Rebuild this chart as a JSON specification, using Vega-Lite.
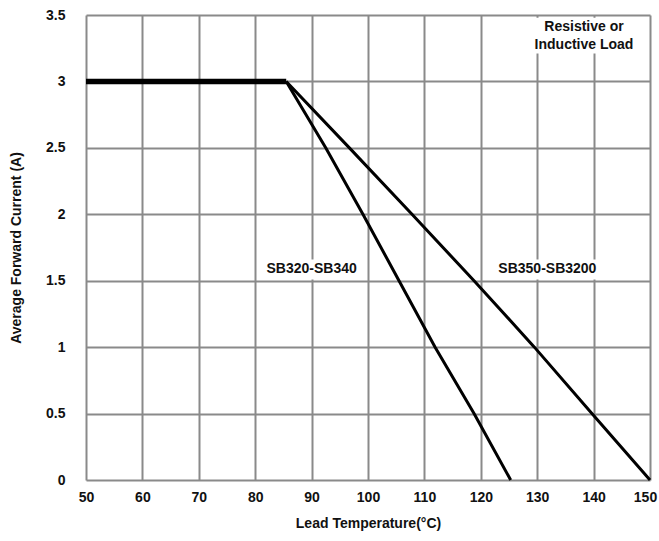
{
  "$schema": "https://vega.github.io/schema/vega-lite/v6.json",
  "autosize": "none",
  "padding": {"left": 86, "top": 15, "right": 9, "bottom": 61},
  "width": 564,
  "height": 465,
  "background": "white",
  "config": {
    "font": "Liberation Sans",
    "view": {"stroke": null},
    "axis": {
      "labelFont": "Liberation Sans",
      "labelFontWeight": "bold",
      "labelFontSize": 14,
      "labelColor": "#111",
      "titleFont": "Liberation Sans",
      "titleFontWeight": "bold",
      "titleFontSize": 14,
      "titleColor": "#111",
      "gridColor": "#8a8a8a",
      "gridWidth": 2,
      "gridOpacity": 1,
      "domain": false,
      "ticks": false,
      "labelFlush": false
    }
  },
  "datasets": {
    "curves": [
      {"series": "flat", "temp": 50, "current": 3},
      {"series": "flat", "temp": 85.5, "current": 3},
      {"series": "SB320-SB340", "temp": 85.5, "current": 3},
      {"series": "SB320-SB340", "temp": 92.5, "current": 2.5},
      {"series": "SB320-SB340", "temp": 99.1, "current": 2},
      {"series": "SB320-SB340", "temp": 105.5, "current": 1.5},
      {"series": "SB320-SB340", "temp": 111.9, "current": 1},
      {"series": "SB320-SB340", "temp": 118.8, "current": 0.5},
      {"series": "SB320-SB340", "temp": 125.3, "current": 0},
      {"series": "SB350-SB3200", "temp": 85.5, "current": 3},
      {"series": "SB350-SB3200", "temp": 96.7, "current": 2.5},
      {"series": "SB350-SB3200", "temp": 107.8, "current": 2},
      {"series": "SB350-SB3200", "temp": 118.8, "current": 1.5},
      {"series": "SB350-SB3200", "temp": 129.5, "current": 1},
      {"series": "SB350-SB3200", "temp": 139.7, "current": 0.5},
      {"series": "SB350-SB3200", "temp": 150, "current": 0}
    ],
    "boxes": [
      {"x1": 81.8, "x2": 98.2, "y1": 1.51, "y2": 1.66},
      {"x1": 122.6, "x2": 141, "y1": 1.51, "y2": 1.66},
      {"x1": 128, "x2": 148.6, "y1": 3.21, "y2": 3.48}
    ],
    "labels": [
      {"text": "SB320-SB340", "temp": 90, "current": 1.585},
      {"text": "SB350-SB3200", "temp": 131.8, "current": 1.585},
      {"text": "Resistive or", "temp": 138.3, "current": 3.41},
      {"text": "Inductive Load", "temp": 138.3, "current": 3.275}
    ]
  },
  "layer": [
    {
      "data": {"name": "boxes"},
      "mark": {"type": "rect", "color": "white"},
      "encoding": {
        "x": {"field": "x1", "type": "quantitative", "scale": {"domain": [50, 150], "nice": false},
              "axis": {"values": [50,60,70,80,90,100,110,120,130,140,150], "labelPadding": 10,
                       "labelOffset": {"condition": {"test": "datum.value === 150", "value": -5}, "value": 0},
                       "title": "Lead Temperature(°C)", "titlePadding": 12}},
        "x2": {"field": "x2"},
        "y": {"field": "y1", "type": "quantitative", "scale": {"domain": [0, 3.5], "nice": false},
              "axis": {"values": [0,0.5,1,1.5,2,2.5,3,3.5], "format": "~g", "labelPadding": 21, "title": "Average Forward Current (A)", "titlePadding": 22}},
        "y2": {"field": "y2"}
      }
    },
    {
      "data": {"name": "curves"},
      "transform": [{"filter": "datum.series === 'flat'"}],
      "mark": {"type": "line", "color": "black", "strokeWidth": 5.5, "strokeCap": "butt"},
      "encoding": {
        "x": {"field": "temp", "type": "quantitative"},
        "y": {"field": "current", "type": "quantitative"}
      }
    },
    {
      "data": {"name": "curves"},
      "transform": [{"filter": "datum.series !== 'flat'"}],
      "mark": {"type": "line", "color": "black", "strokeWidth": 3},
      "encoding": {
        "x": {"field": "temp", "type": "quantitative"},
        "y": {"field": "current", "type": "quantitative"},
        "detail": {"field": "series"}
      }
    },
    {
      "data": {"name": "labels"},
      "mark": {"type": "text", "font": "Liberation Sans", "fontWeight": "bold", "fontSize": 14, "color": "#111", "align": "center", "baseline": "middle"},
      "encoding": {
        "x": {"field": "temp", "type": "quantitative"},
        "y": {"field": "current", "type": "quantitative"},
        "text": {"field": "text"}
      }
    }
  ]
}
